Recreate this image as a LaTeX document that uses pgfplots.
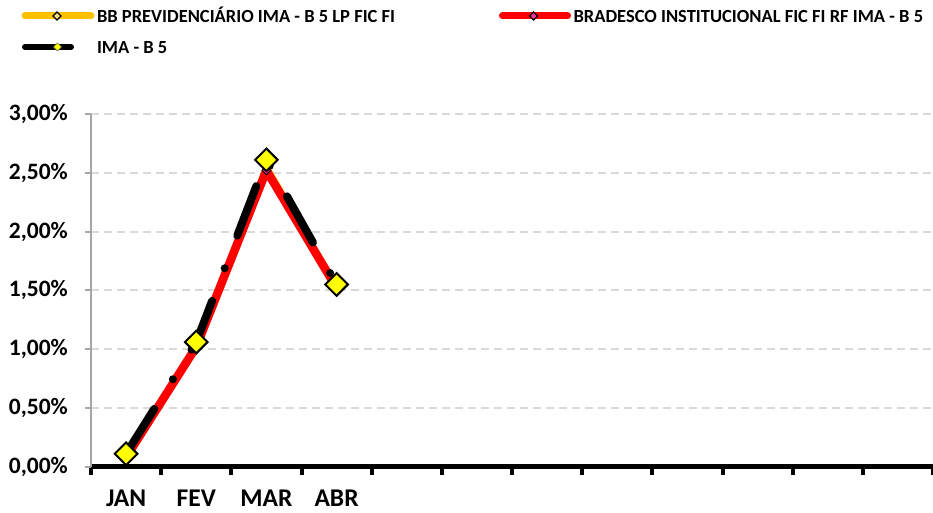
\documentclass[border=0pt]{standalone}
\usepackage{pgfplots}
\pgfplotsset{compat=1.18}
\usepackage{fontspec}
\setmainfont{Carlito}
\definecolor{bbgold}{HTML}{FFC000}
\definecolor{bbfill}{HTML}{FFE080}
\definecolor{brred}{HTML}{FF0000}
\definecolor{ymark}{HTML}{FFFF00}
\definecolor{pinkm}{HTML}{FF3399}
\definecolor{gridc}{HTML}{D9D9D9}
\definecolor{yax}{HTML}{A6A6A6}
\begin{document}
\begin{tikzpicture}
\path[use as bounding box] (-91pt,-46.3pt) rectangle (842pt,466.7pt);
\begin{axis}[
  at={(0pt,0pt)}, anchor=south west,
  scale only axis, width=842pt, height=352.7pt,
  xmin=-0.5, xmax=11.5, ymin=0, ymax=3,
  clip=false,
  axis x line=bottom, axis y line=left,
  x axis line style={-, black, line width=5pt},
  y axis line style={-, yax, line width=2pt},
  xtick={0,1,2,3}, xticklabels={JAN,FEV,MAR,ABR},
  minor xtick={-0.5,0.5,...,11.5},
  ytick={0,0.5,...,3},
  yticklabels={{0,00\%},{0,50\%},{1,00\%},{1,50\%},{2,00\%},{2,50\%},{3,00\%}},
  tick align=outside,
  major tick length=6pt, minor tick length=8pt,
  every major x tick/.append style={draw=none},
  every minor x tick/.append style={black, line width=4pt},
  every major y tick/.append style={yax, line width=2pt},
  ymajorgrids,
  major grid style={gridc, line width=2pt, dash pattern=on 8pt off 5pt},
  yticklabel style={font=\bfseries\fontsize{23.5}{24}\selectfont, anchor=east, inner sep=0pt, xshift=-17pt},
  xticklabel style={font=\bfseries\fontsize{25.5}{26}\selectfont, anchor=north, inner sep=0pt, yshift=-17pt},
  legend style={at={(-0.08254,1.2935)}, anchor=north west, draw=none, fill=none,
    inner sep=0pt, outer sep=0pt, legend columns=2, row sep=16pt,
    font=\bfseries\fontsize{18.5}{18.5}\selectfont,
    nodes={inner sep=0pt, text height=12pt, text depth=3pt},
    /tikz/every odd column/.append style={column sep=2.5pt}},
  legend cell align=left,
]
\addplot[bbgold, line width=5pt, mark=square*, mark size=3pt,
  mark options={rotate=45, fill=bbfill, draw=black, line width=1pt, solid},
  legend image code/.code={
    \draw[bbgold, line width=7pt, line cap=round] (0pt,2pt) -- (66pt,2pt);
    \draw[black, fill=bbfill, line width=1.2pt] (32pt,-2pt) -- (36pt,2pt) -- (32pt,6pt) -- (28pt,2pt) -- cycle;}
  ] coordinates {(0,0.10) (1,1.04) (2,2.56) (3,1.54)};
\addlegendentry{\makebox[402pt][l]{BB PREVIDENCIÁRIO IMA - B 5 LP FIC FI}}
\addplot[brred, line width=8.5pt, mark=square*, mark size=3pt,
  mark options={rotate=45, fill=pinkm, draw=black, line width=1pt, solid},
  legend image code/.code={
    \draw[brred, line width=7pt, line cap=round] (0pt,2pt) -- (65pt,2pt);
    \draw[black, fill=pinkm, line width=1.2pt] (31pt,-2pt) -- (35pt,2pt) -- (31pt,6pt) -- (27pt,2pt) -- cycle;}
  ] coordinates {(0,0.08) (1,1.02) (2,2.52) (3,1.52)};
\addlegendentry{BRADESCO INSTITUCIONAL FIC FI RF IMA - B 5}
\addplot[black, line width=8pt, line cap=round, dash pattern=on 53pt off 35pt on 0pt off 35pt,
  mark=square*, mark size=8pt,
  mark options={rotate=45, fill=ymark, draw=black, line width=2pt, solid},
  legend image code/.code={
    \draw[black, line width=6pt, line cap=round] (0pt,2pt) -- (46pt,2pt);
    \draw[black!60, fill=ymark, line width=0.6pt] (32.5pt,-2pt) -- (36.5pt,2pt) -- (32.5pt,6pt) -- (28.5pt,2pt) -- cycle;}
  ] coordinates {(0,0.11) (1,1.06) (2,2.61) (3,1.55)};
\addlegendentry{IMA - B 5}
\end{axis}
\end{tikzpicture}
\end{document}
